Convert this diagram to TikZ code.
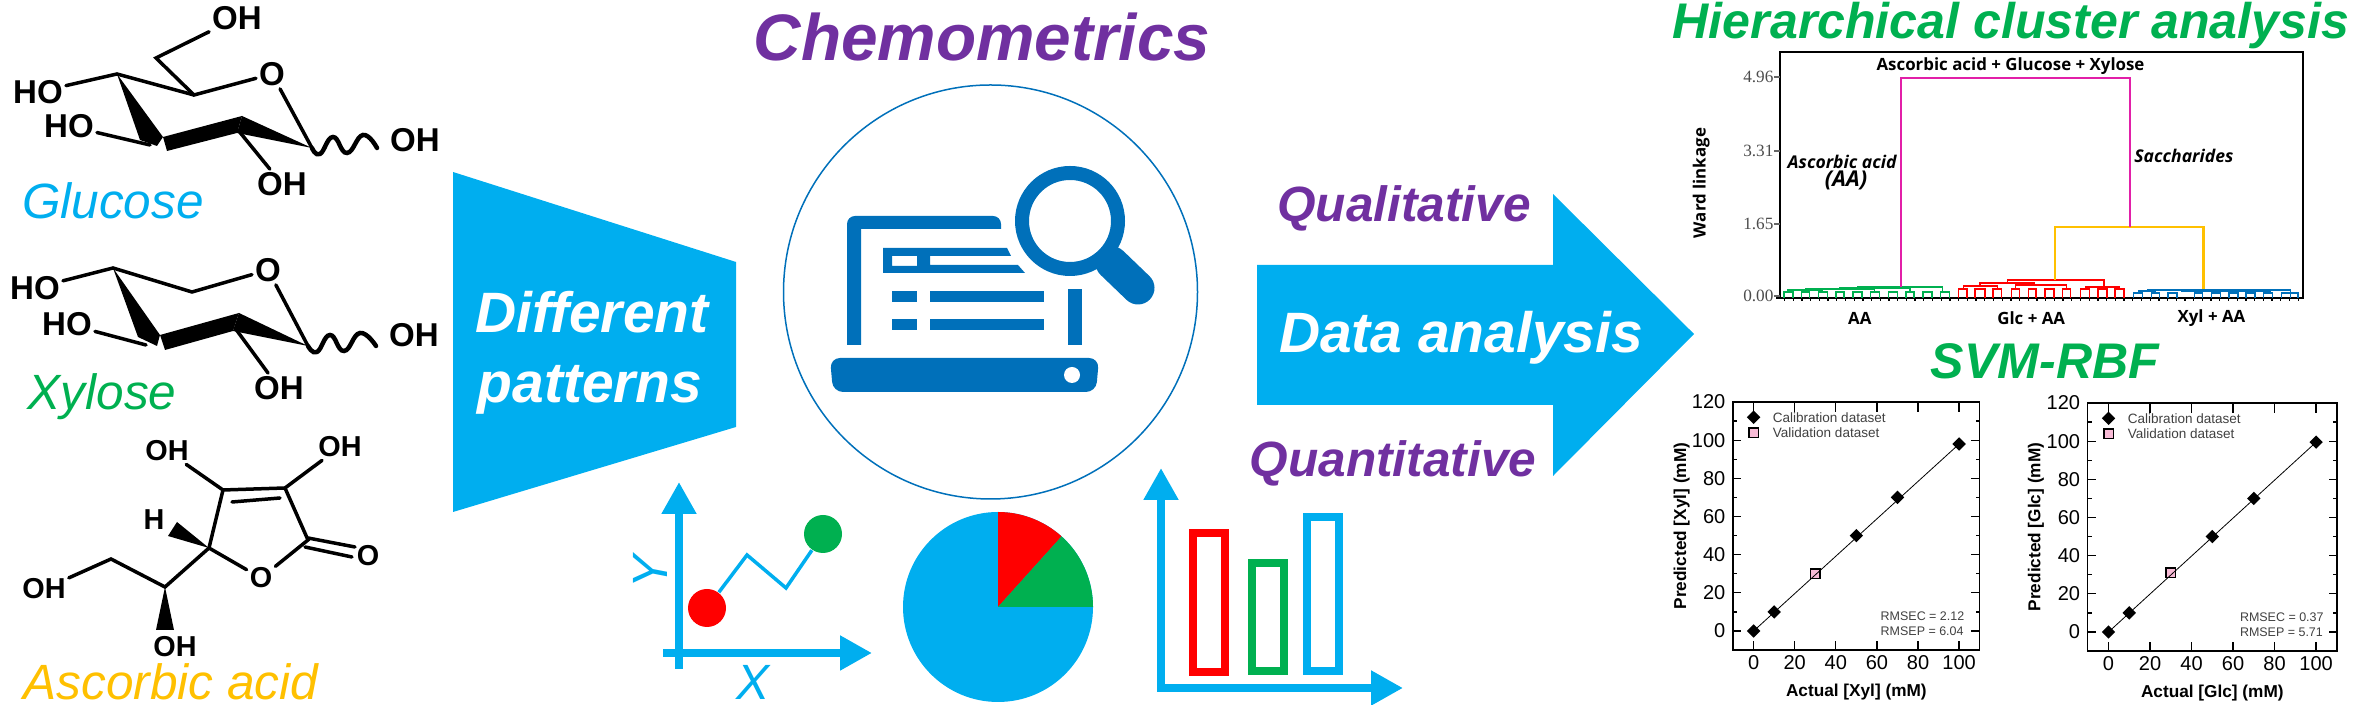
\documentclass[tikz,border=0pt]{standalone}
\usepackage{fontspec}
\setmainfont{Liberation Sans}
\newfontfamily\dendfont{Open Sans}
\newfontfamily\numfont{Liberation Serif}
\usetikzlibrary{arrows.meta,shapes.geometric,positioning}
\definecolor{skyb}{HTML}{00AEEF}
\definecolor{leafg}{HTML}{00B050}
\definecolor{purp}{HTML}{7030A0}
\definecolor{ambr}{HTML}{FFC000}
\definecolor{icon}{HTML}{0070BA}
\definecolor{pinkl}{HTML}{E21FA8}
\definecolor{pinkm}{HTML}{F8BBD6}
\tikzset{
    bond/.style={line width=0.35mm, black, line cap=round},
    atom/.style={font=\fontsize{9.4}{11}\selectfont\bfseries, inner sep=0.25mm},
    smallatom/.style={font=\fontsize{8.2}{10}\selectfont\bfseries, inner sep=0.25mm},
    sugar/.style={font=\fontsize{14.1}{16}\selectfont\itshape, anchor=base, inner sep=0pt},
    head/.style={font=\fontsize{14.25}{16}\selectfont\bfseries\itshape, leafg, anchor=base, inner sep=0pt},
    inarrow/.style={font=\fontsize{16.2}{18}\selectfont\bfseries\itshape, white, anchor=base},
    kind/.style={font=\fontsize{14.1}{16}\selectfont\bfseries\itshape, purp, anchor=base},
    chartaxis/.style={line width=0.8mm, skyb, -{Triangle[length=3.2mm, width=3.3mm]}},
    bar/.style={line width=0.8mm},
    dend/.style={line width=0.15mm},
    dlabel/.style={font=\fontsize{4.8}{6}\selectfont\dendfont\bfseries, inner sep=0pt},
    dnote/.style={font=\fontsize{5}{6}\selectfont\dendfont\bfseries\itshape, inner sep=0pt},
    panel/.style={line width=0.13mm, black},
    ticklab/.style={font=\fontsize{5.7}{7}\selectfont, inner sep=0pt},
    axlab/.style={font=\fontsize{4.9}{6}\selectfont\bfseries, inner sep=0pt},
    legtext/.style={font=\fontsize{3.85}{5}\selectfont, inner sep=0pt, anchor=west, black!75},
    rmstext/.style={legtext, font=\fontsize{3.55}{5}\selectfont},
    calpoint/.style={diamond, fill=black, inner sep=0pt, minimum size=1.4mm},
    valpoint/.style={rectangle, draw=black, line width=0.15mm, fill=pinkm, inner sep=0pt, minimum size=0.95mm}
}
\begin{document}
\begin{tikzpicture}[x=0.1mm, y=-0.1mm]
    \useasboundingbox (0,0) rectangle (2362,705);

    % Glucose
    \node[atom] (goh6) at (237,18) {OH};
    \node[atom] (go) at (272,74) {O};
    \node[atom] (gho4) at (38,92) {HO};
    \node[atom] (gho3) at (69,126) {HO};
    \node[atom] (goh2) at (282,184) {OH};
    \node[atom] (goh1) at (415,140) {OH};
    \coordinate (g6) at (156,58);
    \coordinate (g5) at (194,95);
    \coordinate (g4) at (117,74);
    \coordinate (g3) at (150,145);
    \coordinate (g2) at (238,130);
    \coordinate (g1) at (312,148);
    \draw[bond] (goh6) -- (g6) -- (g5) -- (go) -- (g1);
    \draw[bond] (gho4) -- (g4) -- (g5);
    \draw[bond] (gho3) -- (g3);
    \draw[bond] (g2) -- (goh2);
    \fill (g4) -- (163,137) -- (157,146) -- (140,140) -- cycle;
    \fill (163,137) -- (167,151) -- (237,133) -- (242,116) -- cycle;
    \fill (242,116) -- (237,133) -- (g1) -- cycle;
    \draw[bond, line width=0.45mm] plot[smooth, tension=0.8] coordinates {(g1) (320,154) (333,137) (347,153) (363,135) (377,148)};
    \node[sugar, skyb] (glc) at (113,219) {Glucose};

    % Xylose
    \node[atom] (xo) at (268,270) {O};
    \node[atom] (xho4) at (35,288) {HO};
    \node[atom] (xho3) at (67,324) {HO};
    \node[atom] (xoh2) at (279,388) {OH};
    \node[atom] (xoh1) at (414,335) {OH};
    \coordinate (x5) at (192,292);
    \coordinate (x4) at (113,268);
    \coordinate (x3) at (146,345);
    \coordinate (x2) at (235,328);
    \coordinate (x1) at (308,346);
    \draw[bond] (xho4) -- (x4) -- (x5) -- (xo) -- (x1);
    \draw[bond] (xho3) -- (x3);
    \draw[bond] (x2) -- (xoh2);
    \fill (x4) -- (160,335) -- (157,346) -- (138,337) -- cycle;
    \fill (160,335) -- (165,350) -- (233,331) -- (239,313) -- cycle;
    \fill (239,313) -- (233,331) -- (x1) -- cycle;
    \draw[bond, line width=0.45mm] plot[smooth, tension=0.8] coordinates {(x1) (317,352) (330,335) (344,351) (360,333) (376,346)};
    \node[sugar, leafg] (xyl) at (102,410) {Xylose};

    % Ascorbic acid
    \node[smallatom] (aoh3) at (167,451) {OH};
    \node[smallatom] (aoh2) at (340,447) {OH};
    \node[smallatom] (ah) at (154,520) {H};
    \node[smallatom] (ao) at (261,578) {O};
    \node[smallatom] (aco) at (368,556) {O};
    \node[smallatom] (aoh6) at (44,589) {OH};
    \node[smallatom] (aoh5) at (175,647) {OH};
    \coordinate (a3) at (223,490);
    \coordinate (a2) at (285,488);
    \coordinate (a1) at (308,540);
    \coordinate (a4) at (209,548);
    \coordinate (a5) at (165,587);
    \coordinate (a6) at (111,559);
    \draw[bond] (aoh3) -- (a3) -- (a2) -- (aoh2);
    \draw[bond] (a3) -- (a4) -- (ao) -- (a1) -- (a2);
    \draw[bond] (232,502) -- (280,498);
    \draw[bond] (a4) -- (a5) -- (a6) -- (aoh6);
    \draw[bond] (308,538) -- (355,547);
    \draw[bond] (305,547) -- (352,557);
    \fill (a4) -- (177,522) -- (168,536) -- cycle;
    \fill (a5) -- (156,630) -- (174,630) -- cycle;
    \node[sugar, ambr] (asc) at (171,700) {Ascorbic acid};

    % Funnel and big arrow
    \fill[skyb] (453,172) -- (453,512) -- (736,427) -- (736,262) -- cycle;
    \node[inarrow] (diff) at (592,333) {Different};
    \node[inarrow] (patt) at (590,403) {patterns};
    \fill[skyb] (1257,265) -- (1553,265) -- (1553,194) -- (1694,334) -- (1553,476) -- (1553,405) -- (1257,405) -- cycle;
    \node[inarrow] (data) at (1461,353) {Data analysis};
    \node[kind] (qual) at (1404,222) {Qualitative};
    \node[kind] (quant) at (1393,477) {Quantitative};

    % Chemometrics icon
    \node[font=\fontsize{18.7}{21}\selectfont\bfseries\itshape, purp, anchor=base] (chem) at (982,61) {Chemometrics};
    \node[circle, draw=icon, line width=0.15mm, minimum size=41.4mm, inner sep=0pt] (lens) at (990.5,292) {};
    \fill[icon, rounded corners=0.8mm] (847,345) -- (847,216) -- (1001,216) [sharp corners] -- (1001,229) -- (861,229) -- (861,345) -- cycle;
    \fill[icon, even odd rule] (883,248) -- (1007,248) -- (1011,256) -- (930,256) -- (930,265) -- (1018,265) -- (1025,273) -- (883,273) -- cycle (892,256) rectangle (917,266);
    \foreach \ry in {291,319}{
        \fill[icon] (892,\ry) rectangle (917,\ry+11);
        \fill[icon] (930,\ry) rectangle (1044,\ry+11);
    }
    \fill[icon] (1068,289) rectangle (1082,345);
    \fill[icon, rounded corners=1mm] (830,358) -- (1099,358) -- (1096,392) -- (833,392) -- cycle;
    \fill[white] (1072,375) circle (8);
    \draw[icon, line width=1.4mm] (1070,221) circle (48);
    \draw[icon, line width=3.3mm, line cap=round] (1112,263) -- (1138,288);

    % Scatter sketch
    \draw[chartaxis] (679,669) -- (679,482);
    \draw[chartaxis] (663,653) -- (872,653);
    \node[font=\fontsize{14.1}{16}\selectfont\itshape, skyb, rotate=90, inner sep=0pt] (ylet) at (650,572) {Y};
    \node[font=\fontsize{14.1}{16}\selectfont\itshape, skyb, inner sep=0pt] (xlet) at (753,682) {X};
    \node[circle, fill=red, minimum size=3.8mm, inner sep=0pt] (first) at (707,608) {};
    \node[circle, fill=leafg, minimum size=3.8mm, inner sep=0pt] (last) at (823,534) {};
    \draw[skyb, line width=0.35mm] (first) -- (747,555) -- (786,588) -- (last);

    % Pie
    \fill[skyb] (998,607) circle (95);
    \fill[red] (998,607) -- ++(-90:95) arc[start angle=-90, end angle=-48, radius=95] -- cycle;
    \fill[leafg] (998,607) -- ++(-48:95) arc[start angle=-48, end angle=0, radius=95] -- cycle;

    % Bars
    \draw[chartaxis] (1161,692) -- (1161,468);
    \draw[chartaxis] (1157,688) -- (1403,688);
    \draw[bar, red] (1193,533) rectangle (1225,672);
    \draw[bar, leafg] (1252,563) rectangle (1284,671);
    \draw[bar, skyb] (1307,517) rectangle (1339,671);

    % Dendrogram
    \node[head] (hca) at (2011,39) {Hierarchical cluster analysis};
    \begin{scope}[shift={(24.9,0)}, x=0.0985mm]
        \draw[line width=0.13mm] (1782,52) rectangle (2313,298);
        \foreach \i in {0,...,59}
            \draw[line width=0.13mm] (1786.5+\i*8.84,298) -- (1786.5+\i*8.84,301);
        \draw[line width=0.13mm] (1778,298) -- (1782,298);
        \foreach \tk/\tlab in {77/4.96,151/3.31,224/1.65,296/0.00}{
            \draw[line width=0.13mm, black!60] (1776,\tk) -- (1782,\tk);
            \node[font=\fontsize{4.9}{6}\selectfont\numfont, black!70, anchor=east, inner sep=0pt] (tick\tk) at (1776,\tk) {\tlab};
        }
        \node[dlabel] (top) at (2016,66) {Ascorbic acid + Glucose + Xylose};
        \node[dlabel, rotate=90] (ward) at (1702,183) {Ward linkage};
        \node[dnote] (aalab) at (1845,162) {Ascorbic acid};
        \node[dnote, font=\fontsize{6.2}{7}\selectfont\dendfont\bfseries\itshape] (aapar) at (1849,180) {(AA)};
        \node[dnote] (sac) at (2192,156) {Saccharides};
        \node[dlabel] (gaa) at (1863,318) {AA};
        \node[dlabel] (gglc) at (2037,318) {Glc + AA};
        \node[dlabel] (gxyl) at (2220,318) {Xyl + AA};
        \foreach \xa/\xb in {1786/1795,1804/1812,1821/1830,1839/1847,1856/1865,1874/1883,1892/1901,1910/1918,1927/1936,1945/1954}
            \draw[dend, leafg] (\xa,298) |- (\xb,292) -- (\xb,298);
        \foreach \xa/\ya/\xb/\yb/\yt in {1790/292/1825/292/290,1808/290/1878/292/289,1843/289/1914/292/288,1861/288/1947/292/287}
            \draw[dend, leafg] (\xa,\ya) |- (\xb,\yt) -- (\xb,\yb);
        \foreach \xa/\xb in {1963/1972,1980/1990,1998/2007,2017/2025,2034/2042,2051/2060,2069/2077,2087/2096,2105/2114,2122/2131}
            \draw[dend, red] (\xa,298) |- (\xb,289) -- (\xb,298);
        \foreach \xa/\ya/\xb/\yb/\yt in {1968/289/2003/289/286,2021/289/2073/289/285,1985/286/2040/285/283,2013/283/2111/287/280,2092/289/2126/289/287}
            \draw[dend, red] (\xa,\ya) |- (\xb,\yt) -- (\xb,\yb);
        \foreach \xa/\xb in {2141/2150,2159/2167,2176/2185,2203/2211,2220/2229,2238/2247,2255/2264,2273/2282,2291/2300,2300/2308}
            \draw[dend, icon] (\xa,298) |- (\xb,293) -- (\xb,298);
        \foreach \xa/\ya/\xb/\yb/\yt in {2146/293/2163/293/291,2155/291/2225/293/290,2190/290/2280/293/291,2175/290/2300/293/290}
            \draw[dend, icon] (\xa,\ya) |- (\xb,\yt) -- (\xb,\yb);
        \draw[dend, ambr, line width=0.22mm] (2061,280) |- (2212,227) -- (2212,289);
        \draw[dend, pinkl, line width=0.22mm] (1905,287) |- (2137,78) -- (2137,227);
    \end{scope}

    % Calibration plots
    \node[head] (svm) at (2045,379) {SVM-RBF};
    \foreach \ox/\oy/\ux/\uy/\sug/\ylast/\yval/\err/\rmx/\rmc/\rmp in {1753.6/631/0.2055/0.1908/Xyl/98/30/3/61.5/2.12/6.04,2108.5/632/0.2076/0.1908/Glc/99.5/31/1/63/0.37/5.71}{
        \begin{scope}[shift={(\ox,\oy)}, x=\ux mm, y=\uy mm]
            \draw[panel] (-10,-10) rectangle (110,120);
            \foreach \t in {0,20,...,100}{
                \draw[panel] (\t,-10) -- (\t,-5);
                \draw[panel] (\t,120) -- (\t,115);
                \node[ticklab, anchor=north] (xt\sug\t) at ([yshift=-0.5mm]\t,-10) {\t};
            }
            \foreach \t in {0,20,...,120}{
                \draw[panel] (-10,\t) -- (-6,\t);
                \draw[panel] (110,\t) -- (106,\t);
                \node[ticklab, anchor=east] (yt\sug\t) at ([xshift=-0.7mm]-10,\t) {\t};
            }
            \foreach \t in {10,30,...,110}{
                \draw[panel] (-10,\t) -- (-8,\t);
                \draw[panel] (110,\t) -- (108,\t);
            }
            \node[axlab] (xl\sug) at (50,-32) {Actual [\sug] (mM)};
            \node[axlab, rotate=90] (yl\sug) at (-35,55) {Predicted [\sug] (mM)};
            \node[valpoint] (val\sug) at (30,\yval) {};
            \draw[line width=0.08mm] (0,0) -- (100,\ylast);
            \draw[line width=0.15mm] (100,\ylast-\err) -- (100,\ylast+\err);
            \foreach \px/\py in {0/0,10/10,50/50,70/70,100/\ylast}
                \node[calpoint] (cal\sug\px) at (\px,\py) {};
            \node[calpoint] (legc\sug) at (0,112) {};
            \node[valpoint] (legv\sug) at (0,104) {};
            \node[legtext] (legct\sug) at (9,112) {Calibration dataset};
            \node[legtext] (legvt\sug) at (9,104) {Validation dataset};
            \node[rmstext] (rc\sug) at (\rmx,8) {RMSEC = \rmc};
            \node[rmstext] (rp\sug) at (\rmx,0) {RMSEP = \rmp};
        \end{scope}
    }
\end{tikzpicture}
\end{document}
